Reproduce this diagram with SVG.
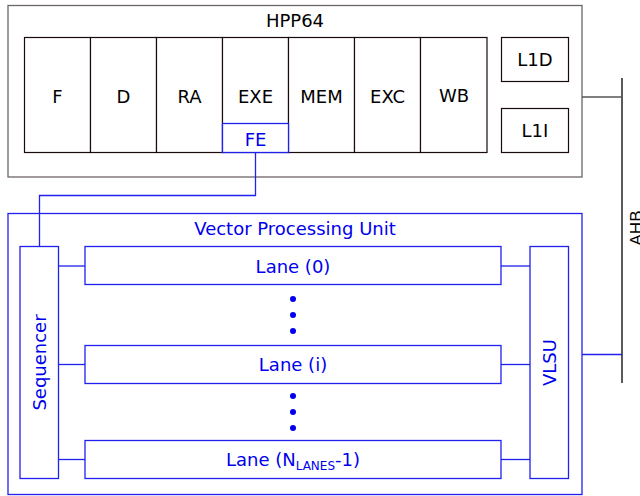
<svg xmlns="http://www.w3.org/2000/svg" width="640" height="496" viewBox="0 0 640 496">
  <style>
    .core { fill: none; stroke: #6e6566; stroke-width: 1.3; }
    .stage { fill: #ffffff; stroke: #1a0a0a; stroke-width: 1.2; }
    .vbox { fill: #ffffff; stroke: #2020f0; stroke-width: 1.3; }
    .lbl { font-family: "DejaVu Sans", sans-serif; font-size: 18px; fill: #000000; text-anchor: middle; }
    .vlbl { font-family: "DejaVu Sans", sans-serif; font-size: 18px; fill: #0000ee; text-anchor: middle; }
    .wire { fill: none; stroke: #2020f0; stroke-width: 1.3; }
    .bus { fill: none; stroke: #000000; stroke-width: 1.3; }
    .busg { fill: none; stroke: #555555; stroke-width: 1.3; }
    .dot { fill: #0000ee; }
  </style>

  <!-- scalar core -->
  <g id="hpp64">
    <rect class="core" x="8" y="5.5" width="574" height="171.5"/>
    <text class="lbl" x="295" y="26.5">HPP64</text>
  </g>
  <g id="stage-f"><rect class="stage" x="24.5" y="37.5" width="66" height="115"/><text class="lbl" x="57.5" y="102.5">F</text></g>
  <g id="stage-d"><rect class="stage" x="90.5" y="37.5" width="66" height="115"/><text class="lbl" x="123.5" y="102.5">D</text></g>
  <g id="stage-ra"><rect class="stage" x="156.5" y="37.5" width="66" height="115"/><text class="lbl" x="189.5" y="102.5">RA</text></g>
  <g id="stage-exe"><rect class="stage" x="222.5" y="37.5" width="66" height="115"/><text class="lbl" x="255.5" y="102.5">EXE</text></g>
  <g id="stage-mem"><rect class="stage" x="288.5" y="37.5" width="66" height="115"/><text class="lbl" x="321.5" y="102.5">MEM</text></g>
  <g id="stage-exc"><rect class="stage" x="354.5" y="37.5" width="66" height="115"/><text class="lbl" x="387.5" y="102.5">EXC</text></g>
  <g id="stage-wb"><rect class="stage" x="420.5" y="37.5" width="66.5" height="115"/><text class="lbl" x="454" y="101.5">WB</text></g>
  <g id="fe"><rect class="vbox" x="222.5" y="123.5" width="66" height="29"/><text class="vlbl" x="255.5" y="145.5">FE</text></g>
  <g id="l1d"><rect class="stage" x="501.5" y="37.5" width="67" height="44"/><text class="lbl" x="535" y="65.5">L1D</text></g>
  <g id="l1i"><rect class="stage" x="501.5" y="108.5" width="67" height="44"/><text class="lbl" x="535" y="136.5">L1I</text></g>

  <!-- vector unit -->
  <g id="vpu">
    <rect class="vbox" x="8" y="213.5" width="574" height="281"/>
    <text class="vlbl" x="295" y="234.5">Vector Processing Unit</text>
  </g>
  <g id="sequencer">
    <rect class="vbox" x="20" y="246.5" width="38.5" height="232"/>
    <text class="vlbl" transform="translate(45.5,362.5) rotate(-90)">Sequencer</text>
  </g>
  <g id="lane-0">
    <rect class="vbox" x="85" y="246.5" width="416" height="38"/>
    <text class="vlbl" x="293" y="272.5">Lane (0)</text>
  </g>
  <g id="lane-i">
    <rect class="vbox" x="85" y="345.5" width="416" height="38"/>
    <text class="vlbl" x="293" y="370.5">Lane (i)</text>
  </g>
  <g id="lane-n">
    <rect class="vbox" x="85" y="440.5" width="416" height="38"/>
    <text class="vlbl" x="293" y="466">Lane (N<tspan font-size="12" dy="4">LANES</tspan><tspan dy="-4">-1)</tspan></text>
  </g>
  <g id="vlsu">
    <rect class="vbox" x="530" y="246.5" width="38.5" height="232"/>
    <text class="vlbl" transform="translate(555.5,362.5) rotate(-90)">VLSU</text>
  </g>
  <g id="ellipsis">
    <circle class="dot" cx="293" cy="299" r="3"/>
    <circle class="dot" cx="293" cy="315" r="3"/>
    <circle class="dot" cx="293" cy="331" r="3"/>
    <circle class="dot" cx="293" cy="396" r="3"/>
    <circle class="dot" cx="293" cy="412" r="3"/>
    <circle class="dot" cx="293" cy="428" r="3"/>
  </g>

  <!-- system bus -->
  <g id="ahb">
    <line class="bus" x1="622" y1="78" x2="622" y2="383"/>
    <text font-family="Liberation Sans, Arial, sans-serif" font-size="17" fill="#000" text-anchor="middle" transform="translate(642,228) rotate(-90)">AHB</text>
  </g>

  <g id="connectors">
    <polyline class="wire" points="255.5,152.5 255.5,195.5 39.5,195.5 39.5,246.5"/>
    <line class="wire" x1="58.5" y1="266" x2="85" y2="266"/>
    <line class="wire" x1="58.5" y1="364.5" x2="85" y2="364.5"/>
    <line class="wire" x1="58.5" y1="459.5" x2="85" y2="459.5"/>
    <line class="wire" x1="501" y1="266" x2="530" y2="266"/>
    <line class="wire" x1="501" y1="364.5" x2="530" y2="364.5"/>
    <line class="wire" x1="501" y1="459.5" x2="530" y2="459.5"/>
    <line class="busg" x1="582" y1="97" x2="622" y2="97"/>
    <line class="wire" x1="582" y1="354.5" x2="622" y2="354.5"/>
  </g>
</svg>
